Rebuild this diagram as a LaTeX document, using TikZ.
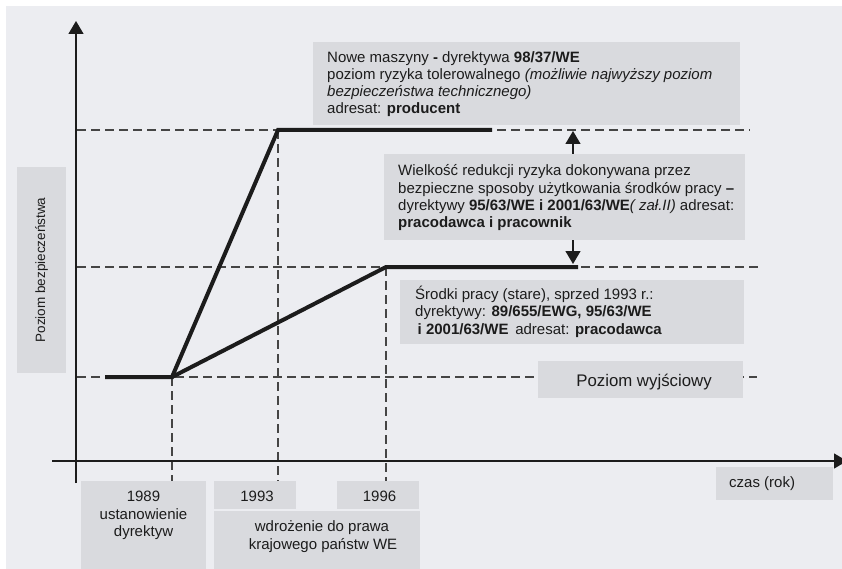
\documentclass[tikz,border=0pt]{standalone}
\usepackage{fontspec}
\setmainfont{Liberation Sans}
\usetikzlibrary{arrows.meta}
\definecolor{bg}{HTML}{ECEDF1}
\definecolor{boxc}{HTML}{D9DADE}
\definecolor{ink}{HTML}{1C1C1C}
\definecolor{dashc}{HTML}{454545}
\begin{document}
\begin{tikzpicture}[x=1pt,y=-1pt,
  box/.style={fill=boxc, draw=none, inner sep=0pt, outer sep=0pt, anchor=north west},
  txt/.style={inner sep=0pt, anchor=north west, align=left, text=ink, font=\fontsize{15}{17.2}\selectfont},
  ctxt/.style={inner sep=0pt, anchor=base, align=center, text=ink, font=\fontsize{15}{17.5}\selectfont},
  guide/.style={draw=dashc, line width=1.2pt, dash pattern=on 9pt off 5pt},
  level/.style={draw=ink, line width=4pt, line join=miter},
  axis/.style={draw=ink, line width=1.4pt},
  tip/.style={-{Triangle[length=13pt,width=15pt]}}
]
\clip (0,0) rectangle (842,569);
\fill[white] (0,0) rectangle (842,569);
\fill[bg] (6,6) rectangle (842,569);

% key points
\coordinate (p0) at (105,377);
\coordinate (p1989) at (172,377);
\coordinate (p1993) at (278,130);
\coordinate (p1996) at (386,267);
\coordinate (e1) at (492,130);
\coordinate (e2) at (578,267);

% guide lines
\draw[guide] (77,130) -- (750,130);
\draw[guide] (77,267) -- (758,267);
\draw[guide] (77,377) -- (757,377);
\draw[guide] (p1989) -- (172,481);
\draw[guide] (p1993) -- (278,481);
\draw[guide] (p1996) -- (386,481);

% boxes
\node[box, minimum width=427pt, minimum height=83pt] (newbox) at (313,42) {};
\node[box, minimum width=361pt, minimum height=86pt] (redbox) at (384,154) {};
\node[box, minimum width=344pt, minimum height=64pt] (oldbox) at (400,280) {};
\node[box, minimum width=205pt, minimum height=37pt] (basebox) at (538,361) {};
\node[box, minimum width=49pt, minimum height=206pt] (ybox) at (17,167) {};
\node[box, minimum width=117pt, minimum height=33pt] (xbox) at (716,467) {};
\node[box, minimum width=125pt, minimum height=88pt] (b1989) at (81,481) {};
\node[box, minimum width=82pt, minimum height=28pt] (b1993) at (214,481) {};
\node[box, minimum width=82pt, minimum height=28pt] (b1996) at (337,481) {};
\node[box, minimum width=206pt, minimum height=58pt] (bimpl) at (214,511) {};

% level lines
\draw[level] (p0) -- (p1989) -- (p1993) -- (e1);
\draw[level] (p1989) -- (p1996) -- (e2);

% axes
\draw[axis, tip] (76,483) -- (76,21);
\draw[axis, tip] (52,461) -- (847,461);

% arrows between boxes and levels
\coordinate (upend) at (573,131);
\coordinate (downend) at (573,264);
\draw[axis, tip, line width=1.3pt] (redbox.north -| upend) -- (upend);
\draw[axis, tip, line width=1.3pt] (redbox.south -| downend) -- (downend);

% texts
\node[txt] (tnew) at (327,48) {\rule{0pt}{14pt}Nowe maszyny \textbf{-} dyrektywa \textbf{98/37/WE}\\
poziom ryzyka tolerowalnego \textit{(możliwie najwyższy poziom}\\
\textit{bezpieczeństwa technicznego)}\\
adresat: \textbf{producent}};
\node[txt] (tred) at (398,161.7) {\rule{0pt}{14pt}Wielkość redukcji ryzyka dokonywana przez\\
bezpieczne sposoby użytkowania środków pracy \textbf{–}\\
dyrektywy \textbf{95/63/WE i 2001/63/WE}\textit{( zał.II)} adresat:\\
\textbf{pracodawca i pracownik}};
\node[txt, font=\fontsize{15}{17.7}\selectfont] (told) at (415,285) {\rule{0pt}{14pt}Środki pracy (stare), sprzed 1993 r.:\\
dyrektywy: \textbf{89/655/EWG, 95/63/WE}\\
\,\textbf{i 2001/63/WE}\, adresat: \textbf{pracodawca}};
\node[ctxt, font=\fontsize{16.8}{20}\selectfont] (tbase) at (644,386) {Poziom wyjściowy};
\node[inner sep=0pt, text=ink, rotate=90, font=\fontsize{13.5}{16}\selectfont] (ty) at (41.5,270) {Poziom bezpieczeństwa};
\node[inner sep=0pt, anchor=base west, text=ink, font=\fontsize{15}{17.5}\selectfont] (tx) at (729,487.3) {czas (rok)};
\node[ctxt] (t1989a) at (143.5,501.5) {1989};
\node[ctxt] (t1989b) at (143.5,519) {ustanowienie};
\node[ctxt] (t1989c) at (143.5,536.5) {dyrektyw};
\node[ctxt] (t1993) at (257,501.5) {1993};
\node[ctxt] (t1996) at (379.5,501.5) {1996};
\node[ctxt] (timpla) at (322,531.7) {wdrożenie do prawa};
\node[ctxt] (timplb) at (323,549.3) {krajowego państw WE};
\end{tikzpicture}
\end{document}
